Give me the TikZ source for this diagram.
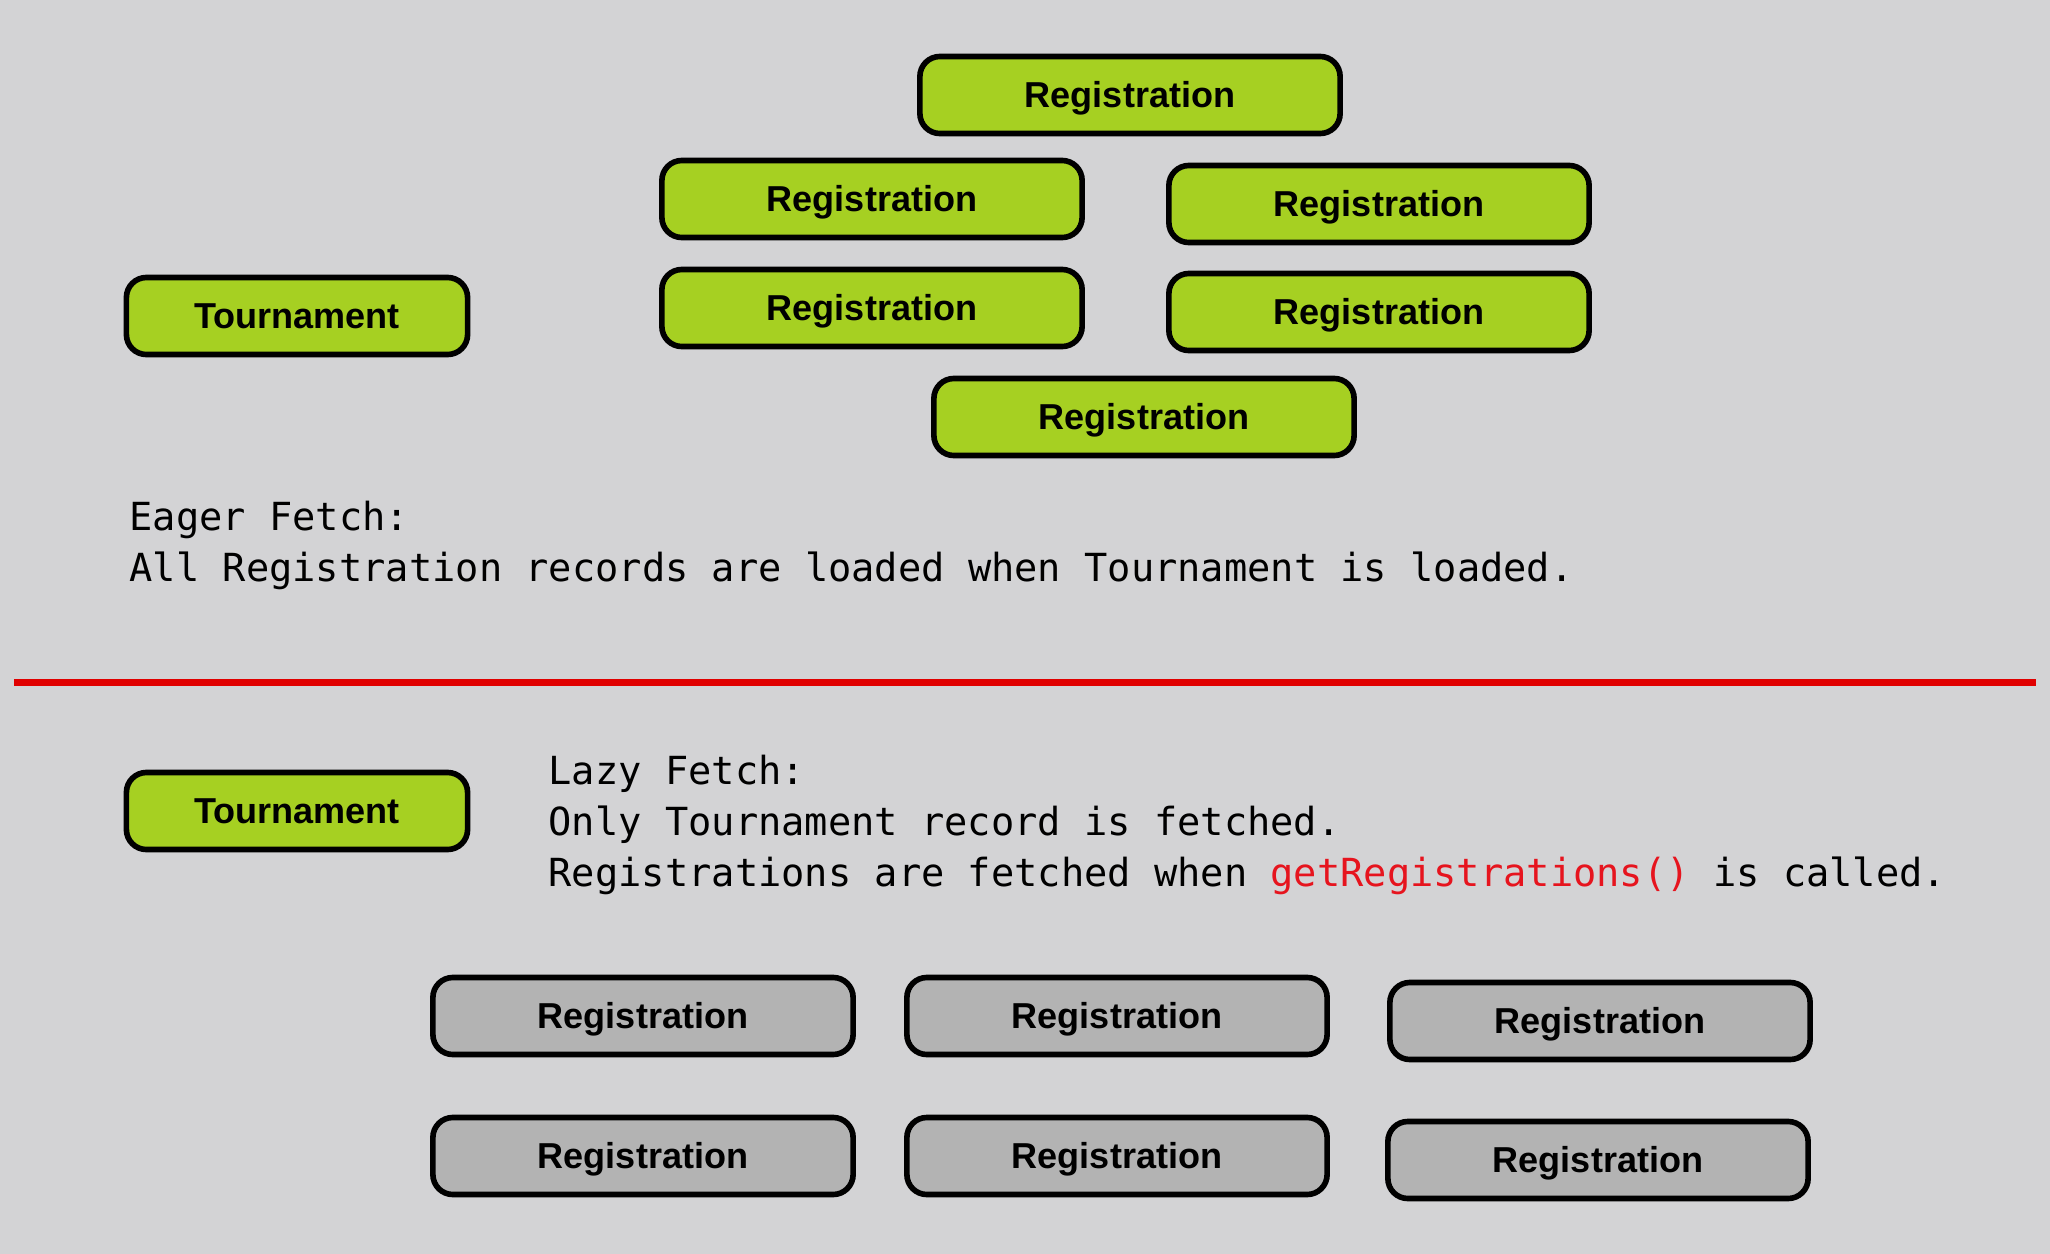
\documentclass[tikz,border=0pt]{standalone}
\usepackage{fontspec}
\setmainfont{Liberation Sans}
\newfontfamily\monof{DejaVu Sans Mono}
\definecolor{bg}{RGB}{211,211,213}
\definecolor{grn}{RGB}{166,208,34}
\definecolor{gry}{RGB}{179,179,179}
\definecolor{redline}{RGB}{224,0,0}
\definecolor{redtxt}{RGB}{230,20,30}
\tikzset{
  box/.style={draw=black, line width=1.6pt, rounded corners=0.2cm, minimum height=0.77cm, inner sep=0pt,
    text height=0.255cm, text depth=0pt,
    font=\fontsize{10.25pt}{12pt}\selectfont\bfseries},
  regbox/.style={box, minimum width=4.2cm},
  tourbox/.style={box, minimum width=3.41cm},
  eager/.style={fill=grn},
  lazy/.style={fill=gry},
  mono/.style={anchor=base west, inner sep=0pt, font=\fontsize{11.0pt}{13pt}\monof}
}
\begin{document}
\begin{tikzpicture}[x=0.01cm, y=-0.01cm]
\fill[bg] (0,0) rectangle (2050,1254);
\useasboundingbox (0,0) rectangle (2050,1254);
% eager
\node[regbox, eager] (r1) at (1130,95) {Registration};
\node[regbox, eager] (r2) at (872,199) {Registration};
\node[regbox, eager] (r3) at (1379,204) {Registration};
\node[regbox, eager] (r4) at (872,308) {Registration};
\node[regbox, eager] (r5) at (1379,312) {Registration};
\node[regbox, eager] (r6) at (1144,417) {Registration};
\node[tourbox, eager] (t1) at (297,316) {Tournament};
\node[mono] (e1) at (129,530) {Eager Fetch:};
\node[mono] (e2) at (129,581.5) {All Registration records are loaded when Tournament is loaded.};
% divider
\coordinate (dl) at (14,682.5);
\coordinate (dr) at (2036,682.5);
\draw[redline, line width=2pt] (dl) -- (dr);
% lazy
\node[tourbox, eager] (t2) at (297,811) {Tournament};
\node[mono] (l1) at (548,784) {Lazy Fetch:};
\node[mono] (l2) at (548,835) {Only Tournament record is fetched.};
\node[mono] (l3) at (548,886) {Registrations are fetched when \textcolor{redtxt}{getRegistrations()} is called.};
\node[regbox, lazy] (g1) at (643,1016) {Registration};
\node[regbox, lazy] (g2) at (1117,1016) {Registration};
\node[regbox, lazy] (g3) at (1600,1021) {Registration};
\node[regbox, lazy] (g4) at (643,1156) {Registration};
\node[regbox, lazy] (g5) at (1117,1156) {Registration};
\node[regbox, lazy] (g6) at (1598,1160) {Registration};
\end{tikzpicture}
\end{document}
